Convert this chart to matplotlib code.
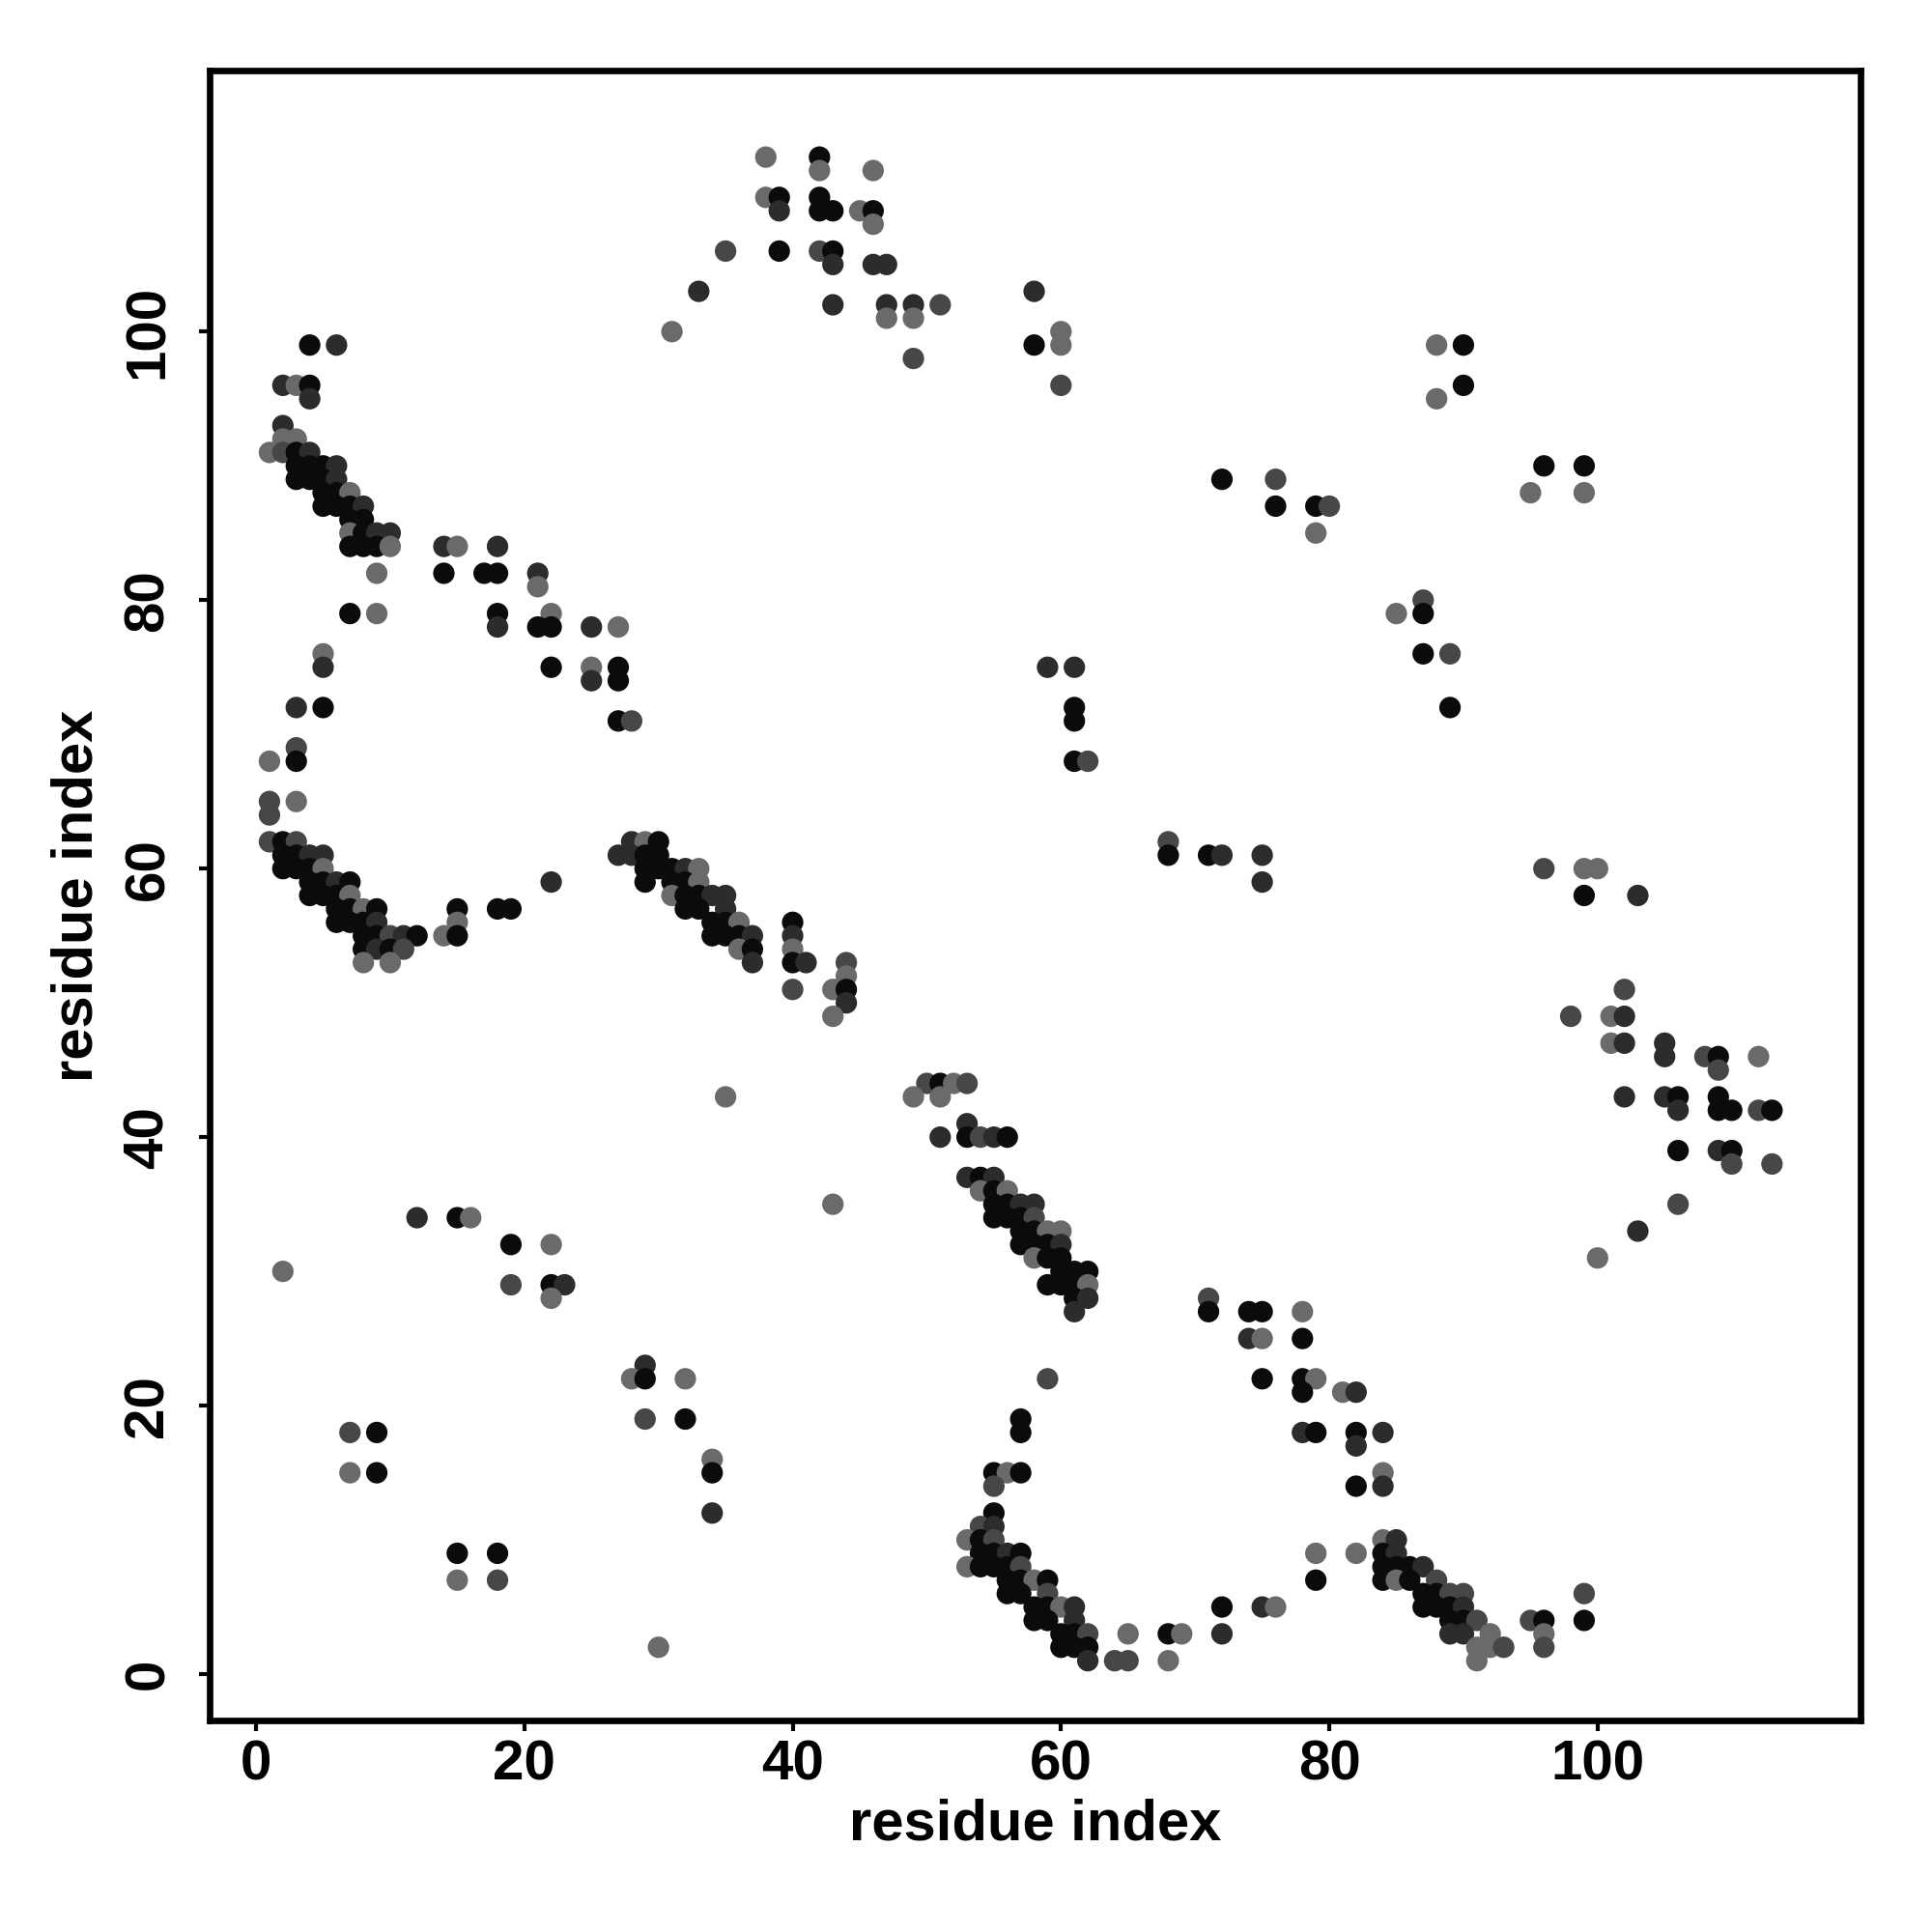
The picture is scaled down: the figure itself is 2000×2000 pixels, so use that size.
import matplotlib
matplotlib.use("Agg")
import matplotlib.pyplot as plt

# ---- data: (residue i, residue j, shade class) ----
band_top_left = [(4,99,'k'),(6,99,'d'),(2,96,'d'),(3,96,'g'),(4,96,'k'),(4,95,'d'),
    (2,93,'d'),(2,92,'g'),(3,92,'g'),(1,91,'g'),(2,91,'m'),(3,91,'k'),(4,91,'d'),
    (3,90,'k'),(4,90,'k'),(5,90,'k'),(6,90,'d'),(3,89,'k'),(4,89,'k'),(5,89,'k'),(6,89,'d'),
    (5,88,'k'),(6,88,'k'),(7,88,'g'),(5,87,'k'),(6,87,'k'),(7,87,'k'),(8,87,'d'),
    (7,86,'k'),(8,86,'k'),(7,85,'g'),(8,85,'k'),(9,85,'d'),(10,85,'d'),
    (7,84,'k'),(8,84,'k'),(9,84,'k'),(10,84,'g')]

upper_left_scatter = [(14,84,'d'),(15,84,'g'),(18,84,'d'),
    (9,82,'g'),(14,82,'k'),(17,82,'k'),(18,82,'k'),(21,82,'d'),(21,81,'g'),
    (7,79,'k'),(9,79,'g'),(18,79,'k'),(22,79,'g'),
    (18,78,'d'),(21,78,'k'),(22,78,'k'),(25,78,'d'),(27,78,'g'),(5,76,'g'),
    (5,75,'d'),(22,75,'k'),(25,75,'g'),(27,75,'k'),(25,74,'d'),(27,74,'k'),
    (3,72,'d'),(5,72,'k'),(27,71,'k'),(28,71,'m'),
    (3,69,'m'),(1,68,'g'),(3,68,'k'),(1,65,'m'),(3,65,'g'),(1,64,'m')]

band_mid_left = [(1,62,'m'),(2,62,'k'),(3,62,'m'),(28,62,'d'),(29,62,'g'),(30,62,'k'),
    (2,61,'k'),(3,61,'k'),(4,61,'d'),(5,61,'d'),(27,61,'d'),(28,61,'d'),(29,61,'k'),(30,61,'k'),
    (2,60,'k'),(3,60,'k'),(4,60,'k'),(5,60,'g'),(29,60,'k'),(30,60,'k'),(31,60,'k'),(32,60,'d'),(33,60,'g'),
    (4,59,'k'),(5,59,'k'),(6,59,'d'),(7,59,'k'),(22,59,'d'),(29,59,'k'),(31,59,'k'),(32,59,'k'),(33,59,'g'),
    (4,58,'k'),(5,58,'k'),(6,58,'k'),(7,58,'g'),(31,58,'g'),(32,58,'k'),(33,58,'k'),(34,58,'d'),(35,58,'d'),
    (6,57,'k'),(7,57,'k'),(8,57,'g'),(9,57,'k'),(15,57,'k'),(18,57,'k'),(19,57,'k'),(32,57,'k'),(33,57,'k'),(35,57,'d'),
    (6,56,'k'),(7,56,'k'),(8,56,'k'),(9,56,'d'),(15,56,'g'),(34,56,'k'),(35,56,'k'),(36,56,'g'),(40,56,'k'),
    (8,55,'k'),(9,55,'k'),(10,55,'m'),(11,55,'d'),(12,55,'k'),(14,55,'g'),(15,55,'k'),
    (34,55,'k'),(35,55,'k'),(36,55,'k'),(37,55,'d'),(40,55,'d'),
    (8,54,'k'),(9,54,'d'),(10,54,'k'),(11,54,'m'),(36,54,'g'),(37,54,'k'),(40,54,'g'),
    (8,53,'g'),(10,53,'g'),(37,53,'d'),(40,53,'k'),(41,53,'d'),(44,53,'m'),
    (44,52,'g'),(40,51,'m'),(43,51,'g'),(44,51,'k'),(44,50,'d'),(43,49,'g')]

top_center = [(38,113,'g'),(42,113,'k'),(42,112,'g'),(46,112,'g'),
    (38,110,'g'),(39,110,'k'),(42,110,'k'),
    (39,109,'d'),(42,109,'k'),(43,109,'k'),(45,109,'g'),(46,109,'k'),(46,108,'g'),
    (35,106,'m'),(39,106,'k'),(42,106,'m'),(43,106,'k'),
    (43,105,'d'),(46,105,'d'),(47,105,'d'),(33,103,'d'),(58,103,'d'),
    (43,102,'d'),(47,102,'d'),(49,102,'d'),(51,102,'m'),(47,101,'g'),(49,101,'g'),
    (31,100,'g'),(60,100,'g'),(58,99,'k'),(60,99,'g'),(49,98,'m'),(60,96,'m')]

upper_right = [(72,89,'k'),(76,89,'m'),(76,87,'k'),(79,87,'k'),(80,87,'m'),(79,85,'g'),
    (88,99,'g'),(90,99,'k'),(90,96,'k'),(88,95,'g'),
    (96,90,'k'),(99,90,'k'),(95,88,'g'),(99,88,'g'),
    (87,80,'m'),(87,79,'k'),(85,79,'g'),(87,76,'k'),(89,76,'m'),(89,72,'k')]

middle = [(59,75,'d'),(61,75,'d'),(61,72,'k'),(61,71,'k'),(61,68,'k'),(62,68,'m'),
    (68,62,'m'),(68,61,'k'),(71,61,'k'),(72,61,'d'),(75,61,'d'),(75,59,'d')]

right_cluster = [(96,60,'m'),(99,60,'g'),(100,60,'g'),(99,58,'k'),(103,58,'d'),
    (102,51,'m'),(98,49,'m'),(101,49,'g'),(102,49,'d'),(101,47,'g'),(102,47,'d'),
    (105,47,'d'),(105,46,'d'),(108,46,'m'),(109,46,'k'),(109,45,'m'),(112,46,'g'),
    (102,43,'d'),(105,43,'d'),(106,43,'k'),(106,42,'d'),(109,43,'k'),(109,42,'k'),
    (110,42,'k'),(112,42,'m'),(113,42,'k'),
    (106,39,'k'),(109,39,'d'),(110,39,'k'),(110,38,'m'),(113,38,'m'),
    (106,35,'m'),(103,33,'d'),(100,31,'g')]

band_center = [(50,44,'m'),(51,44,'k'),(52,44,'g'),(53,44,'m'),(49,43,'g'),(51,43,'g'),(53,41,'d'),
    (51,40,'d'),(53,40,'k'),(54,40,'m'),(55,40,'d'),(56,40,'k'),
    (53,37,'d'),(54,37,'k'),(55,37,'d'),(54,36,'g'),(55,36,'k'),(56,36,'g'),
    (55,35,'k'),(56,35,'k'),(57,35,'d'),(58,35,'d'),
    (55,34,'k'),(56,34,'k'),(57,34,'k'),(58,34,'m'),
    (57,33,'k'),(58,33,'k'),(59,33,'g'),(60,33,'g'),
    (57,32,'k'),(58,32,'k'),(59,32,'k'),(60,32,'d'),
    (58,31,'g'),(59,31,'k'),(60,31,'k'),(60,30,'k'),(61,30,'k'),(62,30,'k'),
    (59,29,'k'),(60,29,'k'),(61,29,'k'),(62,29,'g'),
    (61,28,'k'),(62,28,'d'),(61,27,'d'),(35,43,'g'),(43,35,'g')]

lower_left = [(12,34,'d'),(15,34,'k'),(16,34,'g'),(19,32,'k'),(22,32,'g'),(2,30,'g'),
    (19,29,'m'),(22,29,'k'),(23,29,'d'),(22,28,'g'),
    (29,23,'d'),(28,22,'g'),(29,22,'k'),(32,22,'g'),(29,19,'m'),(32,19,'k'),
    (34,16,'g'),(34,15,'k'),(34,12,'d'),
    (7,18,'m'),(9,18,'k'),(7,15,'g'),(9,15,'k'),(15,9,'k'),(18,9,'k'),(15,7,'g'),(18,7,'m'),(30,2,'g')]

lower_middle = [(71,28,'m'),(71,27,'k'),(74,27,'k'),(75,27,'k'),(78,27,'g'),
    (74,25,'d'),(75,25,'g'),(78,25,'k'),(75,22,'k'),(78,22,'k'),(79,22,'g'),(78,21,'k'),
    (78,18,'d'),(79,18,'k'),
    (59,22,'m'),(57,19,'k'),(57,18,'k'),(55,15,'k'),(56,15,'g'),(57,15,'k'),(55,14,'m'),(55,12,'k'),
    (54,11,'m'),(55,11,'d'),(53,10,'g'),(54,10,'k'),(55,10,'m'),
    (54,9,'k'),(55,9,'k'),(56,9,'d'),(57,9,'k'),
    (53,8,'g'),(54,8,'k'),(55,8,'k'),(56,8,'k'),(57,8,'m'),
    (56,7,'k'),(57,7,'k'),(58,7,'g'),(59,7,'k'),(56,6,'k'),(57,6,'k'),(59,6,'m'),
    (58,5,'k'),(59,5,'k'),(60,5,'g'),(61,5,'d'),(58,4,'k'),(59,4,'k'),(61,4,'d'),
    (60,3,'k'),(61,3,'k'),(62,3,'m'),(60,2,'k'),(61,2,'k'),(62,2,'k'),(62,1,'d'),
    (64,1,'m'),(65,1,'m'),(65,3,'g'),(68,3,'k'),(69,3,'g'),(68,1,'g'),
    (72,5,'k'),(72,3,'d'),(75,5,'d'),(76,5,'g'),(79,9,'g'),(79,7,'k')]

lower_right = [(81,21,'g'),(82,21,'d'),(82,18,'k'),(82,17,'d'),(84,18,'d'),(82,14,'k'),
    (84,15,'g'),(84,14,'d'),(82,9,'g'),
    (84,10,'g'),(85,10,'d'),(84,9,'k'),(85,9,'d'),
    (84,8,'k'),(85,8,'k'),(86,8,'k'),(87,8,'d'),
    (84,7,'k'),(85,7,'g'),(86,7,'k'),(88,7,'m'),
    (87,6,'k'),(88,6,'k'),(89,6,'m'),(90,6,'m'),
    (87,5,'k'),(88,5,'k'),(89,5,'k'),(90,5,'d'),
    (89,4,'k'),(90,4,'k'),(91,4,'m'),(89,3,'d'),(90,3,'d'),(92,3,'g'),
    (91,2,'g'),(92,2,'g'),(93,2,'m'),(91,1,'g'),
    (95,4,'m'),(96,4,'k'),(96,3,'g'),(96,2,'m'),(99,6,'m'),(99,4,'k')]

x_ticks = [0, 20, 40, 60, 80, 100]
y_ticks = [0, 20, 40, 60, 80, 100]
axis_label = "residue index"

shade_colors = {'k': '#0b0b0b', 'd': '#2c2c2c', 'm': '#474747', 'g': '#6a6a6a'}

groups = [band_top_left, upper_left_scatter, band_mid_left, top_center, upper_right,
          middle, right_cluster, band_center, lower_left, lower_middle, lower_right]

plt.rcParams['font.family'] = ['Liberation Sans', 'DejaVu Sans']
plt.rcParams['font.weight'] = 'bold'

fig = plt.figure(figsize=(10, 10), dpi=200)
ax = fig.add_axes([0.1085, 0.1095, 0.8545, 0.854])

for g in groups:
    xs = [p[0] for p in g]
    ys = [p[1] for p in g]
    cs = [shade_colors[p[2]] for p in g]
    ax.scatter(xs, ys, s=64, c=cs, linewidths=0, zorder=3)

ax.set_xlim(-3.46, 119.6)
ax.set_ylim(-3.45, 119.45)
ax.set_xticks(x_ticks)
ax.set_yticks(y_ticks)
ax.set_xticklabels([str(t) for t in x_ticks], fontsize=21, fontweight='bold')
ax.set_yticklabels([str(t) for t in y_ticks], fontsize=21, fontweight='bold',
                   rotation=90, va='center')
ax.tick_params(axis='both', direction='out', length=4, width=1.5, color='black')
ax.tick_params(axis='x', pad=3)
ax.tick_params(axis='y', pad=9)
for sp in ax.spines.values():
    sp.set_linewidth(2.4)
    sp.set_color('black')

ax.set_xlabel(axis_label, fontsize=21.5, fontweight='bold', va='center')
ax.set_ylabel(axis_label, fontsize=21.5, fontweight='bold', va='center')
ax.xaxis.set_label_coords(0.5, -0.063)
ax.yaxis.set_label_coords(-0.080, 0.5)

fig.savefig("out.png", dpi=200, facecolor='white')
